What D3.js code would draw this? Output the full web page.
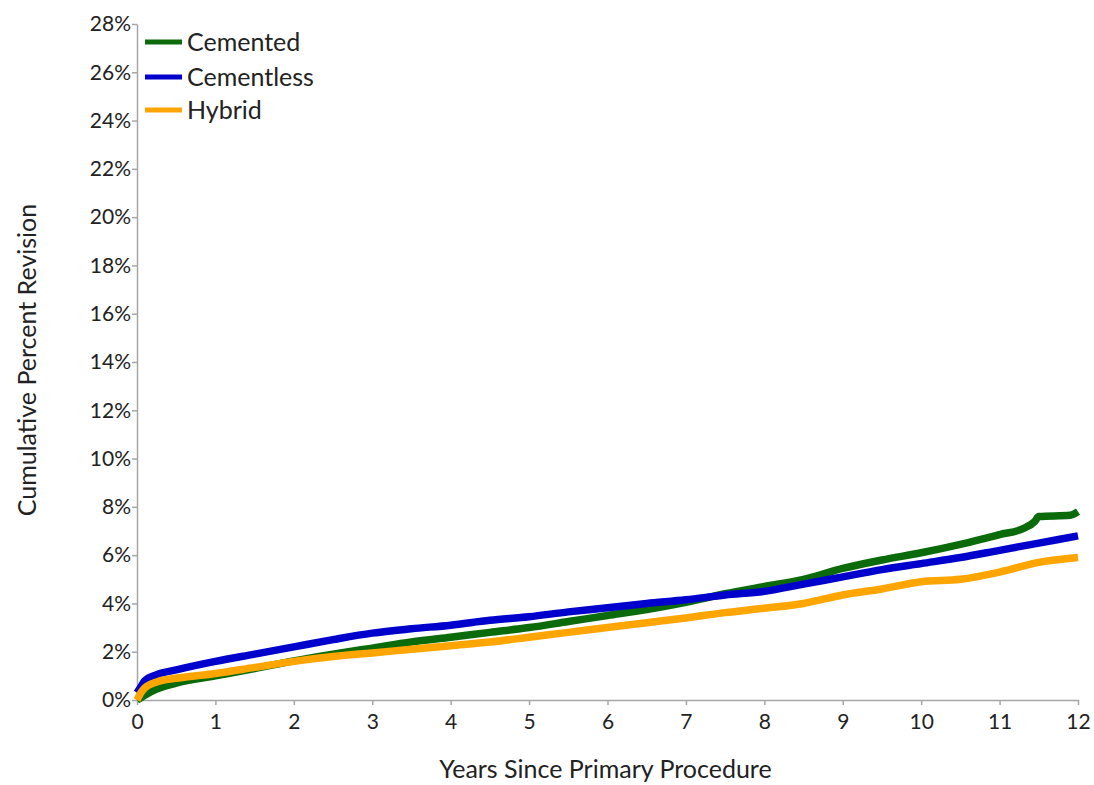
<!DOCTYPE html>
<html><head><meta charset="utf-8">
<script src="https://cdn.jsdelivr.net/npm/d3@7"></script>
<style>
html,body{margin:0;padding:0;background:#fff;}
svg{display:block;font-family:Lato,"Open Sans",sans-serif;}
</style></head>
<body>
<svg id="chart" width="1094" height="785"></svg>
<script>
const seriesNames = ["Cemented", "Cementless", "Hybrid"];
const seriesColors = ["#0b6b0b", "#0000cc", "#ffa500"];
const cementedYears = [0,0.1,0.25,0.5,1,1.5,2,2.5,3,3.5,4,4.5,5,5.5,6,6.5,7,7.5,8,8.5,9,9.5,10,10.5,11,11.3,11.45,11.5,11.9,12];
const cementedPct   = [0,0.2,0.45,0.7,1.0,1.3,1.62,1.9,2.15,2.4,2.6,2.8,3.0,3.25,3.5,3.75,4.05,4.4,4.7,5.0,5.45,5.8,6.1,6.45,6.85,7.1,7.4,7.6,7.65,7.8];
const cementlessYears = [0,0.05,0.1,0.25,0.5,1,1.5,2,2.5,3,3.5,4,4.5,5,5.5,6,6.5,7,7.5,8,8.5,9,9.5,10,10.5,11,11.5,12];
const cementlessPct   = [0.3,0.55,0.8,1.05,1.25,1.6,1.9,2.2,2.5,2.77,2.95,3.1,3.3,3.45,3.65,3.82,4.0,4.15,4.35,4.5,4.8,5.1,5.4,5.65,5.9,6.2,6.5,6.8];
const hybridYears = [0,0.05,0.1,0.25,0.5,1,1.5,2,2.5,3,3.5,4,4.5,5,5.5,6,6.5,7,7.5,8,8.5,9,9.5,10,10.5,11,11.5,12];
const hybridPct   = [0,0.3,0.5,0.75,0.9,1.1,1.35,1.6,1.8,1.95,2.1,2.25,2.4,2.6,2.8,3.0,3.2,3.4,3.62,3.8,4.0,4.35,4.6,4.9,5.0,5.3,5.7,5.9];
const xTicks = [0,1,2,3,4,5,6,7,8,9,10,11,12];
const yTicks = [0,2,4,6,8,10,12,14,16,18,20,22,24,26,28];
const xTitle = "Years Since Primary Procedure";
const yTitle = "Cumulative Percent Revision";

const svg = d3.select("#chart");
const mLeft = 137, mRight = 1078, mTop = 24, mBottom = 700;
const x = d3.scaleLinear().domain([0,12]).range([mLeft,mRight]);
const y = d3.scaleLinear().domain([0,28]).range([mBottom,mTop]);
const axisColor = "#a6a6a6", textColor = "#222222";

const gx = svg.append("g").attr("transform",`translate(0,${mBottom})`)
  .call(d3.axisBottom(x).tickValues(xTicks).tickSize(5).tickSizeOuter(0).tickPadding(9).tickFormat(d3.format("d")));
const gy = svg.append("g").attr("transform",`translate(${mLeft},0)`)
  .call(d3.axisLeft(y).tickValues(yTicks).tickSize(5).tickSizeOuter(0).tickPadding(1).tickFormat(d=>d+"%"));
[gx,gy].forEach(g=>{
  g.select(".domain").attr("stroke",axisColor).attr("stroke-width",1.5);
  g.selectAll(".tick line").attr("stroke",axisColor).attr("stroke-width",1.5);
  g.selectAll(".tick text").attr("fill",textColor).style("font-size","21px").style("font-family","Lato, sans-serif");
});

const data = [
  cementedYears.map((t,i)=>[t,cementedPct[i]]),
  cementlessYears.map((t,i)=>[t,cementlessPct[i]]),
  hybridYears.map((t,i)=>[t,hybridPct[i]])
];
const line = d3.line().x(d=>x(d[0])).y(d=>y(d[1])).curve(d3.curveMonotoneX);
data.forEach((d,i)=>{
  svg.append("path").datum(d).attr("d",line).attr("fill","none")
    .attr("stroke",seriesColors[i]).attr("stroke-width",7.5).attr("stroke-linejoin","round");
});

// legend
const legY = [42, 77, 110];
seriesNames.forEach((n,i)=>{
  svg.append("line").attr("x1",145).attr("x2",182).attr("y1",legY[i]).attr("y2",legY[i])
    .attr("stroke",seriesColors[i]).attr("stroke-width",5);
  svg.append("text").attr("x",187).attr("y",legY[i]).attr("dy","0.35em")
    .attr("fill",textColor).style("font-size","25px").text(n);
});

svg.append("text").attr("x",(mLeft+mRight)/2 - 2).attr("y",778).attr("text-anchor","middle")
  .attr("fill",textColor).style("font-size","25px").text(xTitle);
svg.append("text").attr("transform",`translate(27,${(mTop+mBottom)/2 - 2}) rotate(-90)`).attr("text-anchor","middle")
  .attr("dy","0.35em").attr("fill",textColor).style("font-size","25px").text(yTitle);
</script>
</body></html>
